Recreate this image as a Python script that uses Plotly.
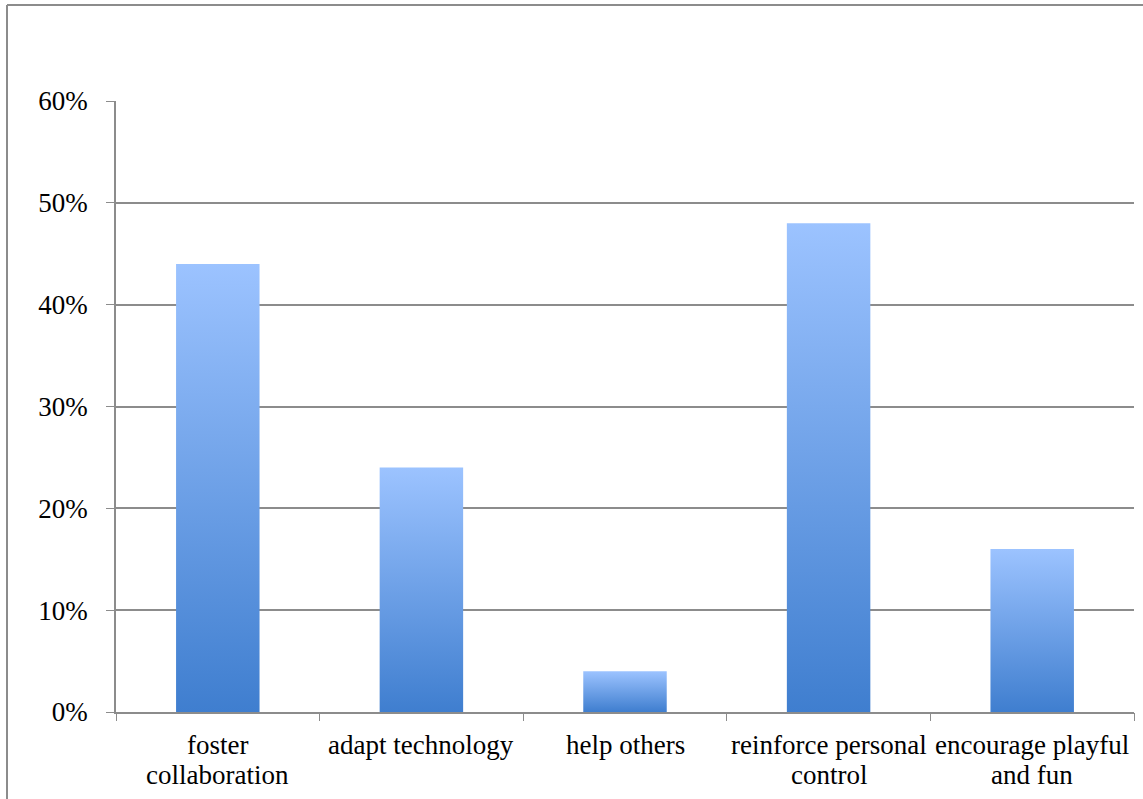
import plotly.graph_objects as go

categories = ["foster<br>collaboration", "adapt technology", "help others",
              "reinforce personal<br>control", "encourage playful<br>and fun"]
values = [0.44, 0.24, 0.04, 0.48, 0.16]
y_ticks = [0, 0.1, 0.2, 0.3, 0.4, 0.5, 0.6]
y_tick_labels = ["0%", "10%", "20%", "30%", "40%", "50%", "60%"]

FONT = "'Liberation Serif', 'Times New Roman', Times, 'DejaVu Serif', serif"
FSIZE = 27
GRID = "#8c8c8c"
HALF_W = 0.205

fig = go.Figure()

# each bar is a filled rectangle with a vertical light-to-dark blue gradient
for i, v in enumerate(values):
    fig.add_trace(go.Scatter(
        x=[i - HALF_W, i - HALF_W, i + HALF_W, i + HALF_W, i - HALF_W],
        y=[0, v, v, 0, 0],
        mode="lines",
        line=dict(width=0),
        fill="toself",
        fillgradient=dict(type="vertical",
                          colorscale=[[0, "#3f7ecf"], [1, "#9cc3ff"]]),
        hoverinfo="skip",
        showlegend=False,
    ))

# invisible trace to keep the boundary-tick axis active
fig.add_trace(go.Scatter(x=[-0.5, 4.5], y=[0, 0], xaxis="x2", mode="lines",
                         line=dict(width=0), hoverinfo="skip", showlegend=False))

# category labels, one annotation per text line for tighter line spacing
annotations = []
for i, label in enumerate(categories):
    for j, line in enumerate(label.split("<br>")):
        annotations.append(dict(
            x=i, xref="x", y=0, yref="paper", yanchor="middle",
            yshift=-33 - 30 * j, text=line, showarrow=False,
            font=dict(family=FONT, size=FSIZE, color="black"),
        ))

fig.update_layout(
    width=1143, height=799,
    margin=dict(l=116, r=9, t=101, b=87),
    paper_bgcolor="white", plot_bgcolor="white",
    font=dict(family=FONT, size=FSIZE, color="black"),
    xaxis=dict(
        range=[-0.5, 4.5], showticklabels=False, ticks="",
        showgrid=False, zeroline=False,
        showline=True, linecolor=GRID, linewidth=2,
    ),
    xaxis2=dict(
        overlaying="x", matches="x", range=[-0.5, 4.5],
        tickvals=[k - 0.5 for k in range(len(categories) + 1)],
        ticks="outside", ticklen=8, tickwidth=1, tickcolor=GRID,
        showticklabels=False, showgrid=False, zeroline=False, side="bottom",
    ),
    yaxis=dict(
        range=[0, 0.6], tickvals=y_ticks, ticktext=y_tick_labels,
        showgrid=True, gridcolor=GRID, gridwidth=1.5, zeroline=False,
        showline=True, linecolor=GRID, linewidth=1.5,
        ticks="outside", ticklen=8, tickcolor=GRID,
        tickfont=dict(family=FONT, size=FSIZE), ticklabelstandoff=13,
    ),
    annotations=annotations,
    shapes=[
        dict(type="line", xref="paper", yref="paper",
             x0=(7 - 116) / 1018, x1=1.05, y0=(712 - 5) / 611, y1=(712 - 5) / 611,
             line=dict(color=GRID, width=2)),
        dict(type="line", xref="paper", yref="paper",
             x0=(7 - 116) / 1018, x1=(7 - 116) / 1018, y0=-0.2, y1=(712 - 5) / 611,
             line=dict(color=GRID, width=2)),
    ],
)

fig.write_html("out.html")
